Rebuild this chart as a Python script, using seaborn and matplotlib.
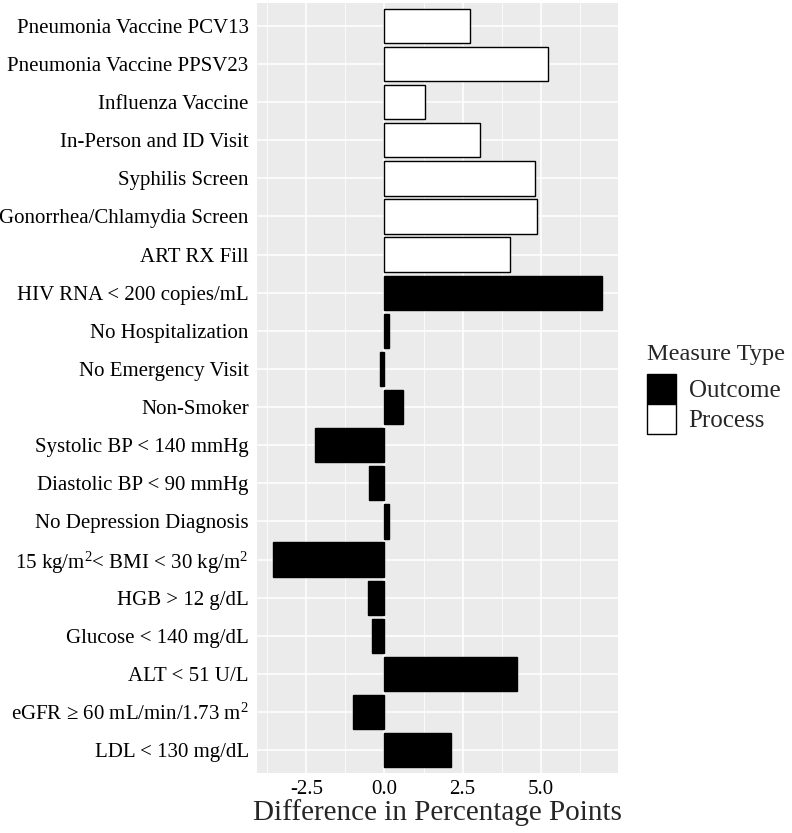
import matplotlib
matplotlib.use("Agg")
import matplotlib.pyplot as plt
from matplotlib.patches import Patch
from matplotlib.ticker import FixedLocator
import numpy as np
import pandas as pd
import seaborn as sns

measures = [
    "Pneumonia Vaccine PCV13",
    "Pneumonia Vaccine PPSV23",
    "Influenza Vaccine",
    "In-Person and ID Visit",
    "Syphilis Screen",
    "Gonorrhea/Chlamydia Screen",
    "ART RX Fill",
    "HIV RNA < 200 copies/mL",
    "No Hospitalization",
    "No Emergency Visit",
    "Non-Smoker",
    "Systolic BP < 140 mmHg",
    "Diastolic BP < 90 mmHg",
    "No Depression Diagnosis",
    "15 kg/m$\\mathregular{^2}$< BMI < 30 kg/m$\\mathregular{^2}$",
    "HGB > 12 g/dL",
    "Glucose < 140 mg/dL",
    "ALT < 51 U/L",
    "eGFR ≥ 60 mL/min/1.73 m$\\mathregular{^2}$",
    "LDL < 130 mg/dL",
]
diffs = [2.72, 5.23, 1.28, 3.06, 4.81, 4.89, 4.02, 6.94, 0.16, -0.14,
         0.59, -2.22, -0.48, 0.14, -3.55, -0.54, -0.41, 4.23, -1.01, 2.13]
types = ["Process"] * 7 + ["Outcome"] * 13
type_colors = {"Outcome": "black", "Process": "white"}
x_ticks = [-2.5, 0.0, 2.5, 5.0]
x_minor = [-3.75, -1.25, 1.25, 3.75, 6.25]

df = pd.DataFrame({"measure": measures, "diff": diffs, "type": types})

sns.set_style("darkgrid")
plt.rcParams['font.family'] = ['Liberation Serif', 'DejaVu Serif']
plt.rcParams['mathtext.fontset'] = 'custom'
plt.rcParams['mathtext.rm'] = 'Liberation Serif'

fig = plt.figure(figsize=(7.92, 8.33), dpi=100, facecolor='white')
ax = fig.add_axes([257 / 792, (833 - 773) / 833, (618 - 257) / 792, 770 / 833])
ax.set_facecolor('#EBEBEB')

sns.barplot(data=df, y="measure", x="diff", hue="type", palette=type_colors,
            order=measures, dodge=False, width=0.9, edgecolor='black',
            linewidth=1.0, legend=False, ax=ax, zorder=3)

# ggplot-style 5% expansion around the data range (incl. zero)
lo, hi = min(0, df["diff"].min()), max(0, df["diff"].max())
pad = 0.05 * (hi - lo)
ax.set_xlim(lo - pad, hi + pad)
ax.set_ylim(len(measures) - 0.4, -0.6)

ax.xaxis.set_major_locator(FixedLocator(x_ticks))
ax.xaxis.set_minor_locator(FixedLocator(x_minor))
ax.set_xticklabels([f"{t:.1f}" for t in x_ticks])
ax.grid(which='major', color='white', linewidth=1.1, zorder=0)
ax.grid(which='minor', axis='x', color='white', linewidth=0.55, zorder=0)
ax.set_axisbelow(True)
for s in ax.spines.values():
    s.set_visible(False)

ax.tick_params(axis='both', which='major', length=3, width=0.8, color='#333333',
               labelsize=15, labelcolor='black')
ax.tick_params(axis='y', pad=3)
ax.tick_params(axis='x', pad=2)
ax.tick_params(axis='x', which='minor', length=0)
ax.set_ylabel("")
ax.set_xlabel("Difference in Percentage Points", fontsize=21, labelpad=0)

handles = [Patch(facecolor=type_colors[t], edgecolor='black', linewidth=1.0)
           for t in ["Outcome", "Process"]]
leg = fig.legend(handles, ["Outcome", "Process"], title="Measure Type",
                 loc='center left', bbox_to_anchor=(647 / 792, (833 - 389) / 833),
                 frameon=False, fontsize=18, title_fontsize=17.5,
                 handlelength=1.16, handleheight=1.47, labelspacing=0.0,
                 handletextpad=0.5, borderpad=0, borderaxespad=0,
                 alignment='left')
leg._legend_box.sep = 6  # gap between title and keys

plt.savefig("out.png", dpi=100)
plt.close()
